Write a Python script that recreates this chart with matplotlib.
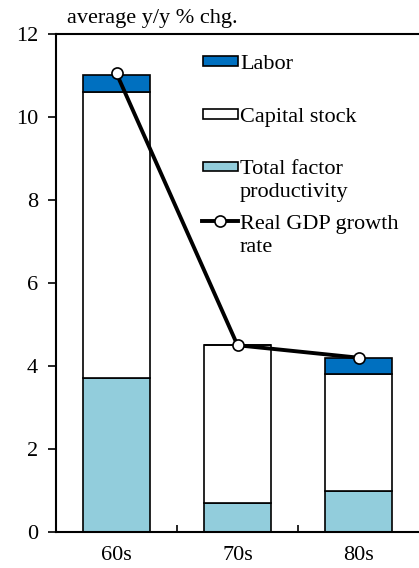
import matplotlib
matplotlib.use("Agg")
import matplotlib.pyplot as plt
from matplotlib.patches import Rectangle
from matplotlib.lines import Line2D

plt.rcParams['font.family'] = ['Liberation Serif', 'DejaVu Serif']

# data (average y/y % chg.)
decades = ['60s', '70s', '80s']
tfp = [3.7, 0.7, 1.0]
capital = [6.9, 3.8, 2.8]
labor = [0.4, 0.0, 0.4]
gdp = [11.05, 4.5, 4.2]

labor_col = '#0070C0'
tfp_col = '#92CDDC'
fs = 16

fig = plt.figure(figsize=(4.19, 5.68), dpi=100)
ax = fig.add_axes([56 / 419, 36 / 568, 363 / 419, 498 / 568])

x = list(range(len(decades)))
w = 0.56
ax.bar(x, tfp, w, color=tfp_col, edgecolor='black', linewidth=1.2, zorder=2)
ax.bar(x, capital, w, bottom=tfp, color='white', edgecolor='black', linewidth=1.2, zorder=2)
lab_bottom = [a + b for a, b in zip(tfp, capital)]
ax.bar(x, labor, w, bottom=lab_bottom, color=labor_col, edgecolor='black', linewidth=1.2, zorder=2)
ax.plot(x, gdp, color='black', linewidth=2.8, marker='o', markersize=8,
        markerfacecolor='white', markeredgecolor='black', markeredgewidth=1.2, zorder=3)

ax.set_xlim(-0.5, 2.5)
ax.set_ylim(0, 12)
ax.set_yticks(range(0, 13, 2))
ax.set_xticks(x)
ax.set_xticklabels(decades)
ax.set_xticks([0.5, 1.5], minor=True)
ax.tick_params(axis='x', which='major', length=0, labelsize=fs, pad=10)
ax.tick_params(axis='x', which='minor', direction='in', length=5, width=1.2)
ax.tick_params(axis='y', direction='out', length=6, width=1.2, labelsize=fs, pad=7)
for s in ['left', 'bottom', 'top']:
    ax.spines[s].set_linewidth(1.5)
ax.spines['right'].set_visible(False)

fig.text(67 / 419, 1 - 18 / 568, 'average y/y % chg.', fontsize=fs, va='center', ha='left')


# legend drawn by hand (handle aligned with first line of label)
def px(xp, yp):
    return xp / 419, 1 - yp / 568


items = [
    ('rect', labor_col, 61, ['Labor']),
    ('rect', 'white', 114, ['Capital stock']),
    ('rect', tfp_col, 166, ['Total factor', 'productivity']),
    ('line', None, 221, ['Real GDP growth', 'rate']),
]
for kind, col, yc, lines in items:
    if kind == 'rect':
        x0, y0 = px(203, yc + 4.5)
        fig.patches.append(Rectangle((x0, y0), 35 / 419, 9 / 568, transform=fig.transFigure,
                                     facecolor=col, edgecolor='black', linewidth=1.2))
    else:
        xa, ya = px(202, yc)
        xb, _ = px(238, yc)
        fig.lines.append(Line2D([xa, xb], [ya, ya], transform=fig.transFigure, color='black',
                                linewidth=2.8))
        xm, _ = px(220, yc)
        fig.lines.append(Line2D([xm], [ya], transform=fig.transFigure, marker='o', markersize=8,
                                markerfacecolor='white', markeredgecolor='black', markeredgewidth=1.2))
    for i, t in enumerate(lines):
        tx, ty = px(240, yc + 1 + 23 * i)
        fig.text(tx, ty, t, fontsize=fs, va='center_baseline', ha='left')

fig.savefig('out.png', dpi=100)
